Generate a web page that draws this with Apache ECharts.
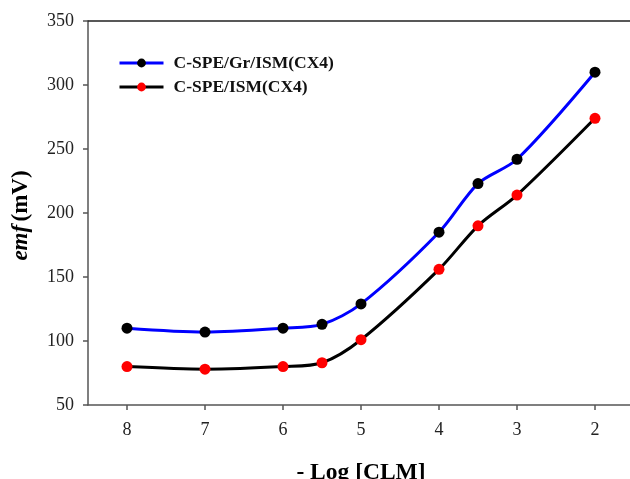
<!DOCTYPE html>
<html>
<head>
<meta charset="utf-8">
<script src="https://cdn.jsdelivr.net/npm/echarts@6/dist/echarts.min.js"></script>
<style>
  html, body { margin: 0; padding: 0; background: #fff; }
  #chart { width: 630px; height: 479px; }
</style>
</head>
<body>
<div id="chart"></div>
<script>
const logConc = [8, 7, 6, 5.5, 5, 4, 3.5, 3, 2];
const emfGr = [110, 107, 110, 113, 129, 185, 223, 242, 310];
const emfPlain = [80, 78, 80, 83, 101, 156, 190, 214, 274];
const seriesNames = ['C-SPE/Gr/ISM(CX4)', 'C-SPE/ISM(CX4)'];
const xTicks = [2, 3, 4, 5, 6, 7, 8];

function pairs(xs, ys) {
  return xs.map(function (x, i) { return [x, ys[i]]; });
}

const serif = '"Liberation Serif", "DejaVu Serif", serif';
const axisColor = '#555';

var chart = echarts.init(document.getElementById('chart'));

var option = {
  animation: false,
  grid: { left: 88, right: -4, top: 21, bottom: 74, outerBoundsMode: 'none', containLabel: false },
  legend: {
    left: 113,
    top: 49,
    orient: 'vertical',
    itemWidth: 44,
    itemHeight: 11,
    itemGap: 6,
    lineStyle: { width: 3 },
    textStyle: { fontFamily: serif, fontWeight: 'bold', fontSize: 17.5, color: '#111', padding: [0, 0, 0, 5] },
    data: seriesNames
  },
  xAxis: [
    {
      type: 'value',
      inverse: true,
      min: 1.5,
      max: 8.5,
      splitLine: { show: false },
      axisLine: { onZero: false, lineStyle: { color: axisColor, width: 1.5 } },
      axisTick: { show: true, length: 5, customValues: xTicks, lineStyle: { color: axisColor, width: 1.5 } },
      axisLabel: {
        margin: 16,
        fontFamily: serif,
        fontSize: 18,
        color: '#222',
        customValues: xTicks
      },
      name: '- Log [CLM]',
      nameLocation: 'middle',
      nameGap: 56,
      nameTextStyle: { fontFamily: serif, fontWeight: 'bold', fontSize: 23.5, color: '#000', verticalAlign: 'top' }
    },
    {
      type: 'value',
      position: 'top',
      inverse: true,
      min: 1.5,
      max: 8.5,
      splitLine: { show: false },
      axisLine: { onZero: false, lineStyle: { color: '#222', width: 1.5 } },
      axisTick: { show: false },
      axisLabel: { show: false }
    }
  ],
  yAxis: {
    type: 'value',
    min: 50,
    max: 350,
    interval: 50,
    splitLine: { show: false },
    axisLine: { show: true, lineStyle: { color: axisColor, width: 1.5 } },
    axisTick: { show: true, length: 5, lineStyle: { color: axisColor, width: 1.5 } },
    axisLabel: { margin: 14, fontFamily: serif, fontSize: 18, color: '#222' },
    name: '{i|emf} {n|(mV)}',
    nameLocation: 'middle',
    nameRotate: 90,
    nameGap: 55,
    nameTextStyle: {
      padding: [0, 5, 0, 0],
      rich: {
        i: { fontFamily: serif, fontStyle: 'italic', fontWeight: 'bold', fontSize: 23, color: '#000' },
        n: { fontFamily: serif, fontWeight: 'bold', fontSize: 23, color: '#000' }
      }
    }
  },
  series: [
    {
      name: seriesNames[0],
      type: 'line',
      smooth: 0.3,
      data: pairs(logConc, emfGr),
      symbol: 'circle',
      symbolSize: 11,
      lineStyle: { color: '#0000ff', width: 3 },
      itemStyle: { color: '#000' },
      z: 3
    },
    {
      name: seriesNames[1],
      type: 'line',
      smooth: 0.3,
      data: pairs(logConc, emfPlain),
      symbol: 'circle',
      symbolSize: 11,
      lineStyle: { color: '#000', width: 3 },
      itemStyle: { color: '#ff0000' },
      z: 3
    }
  ]
};

chart.setOption(option);
</script>
</body>
</html>
